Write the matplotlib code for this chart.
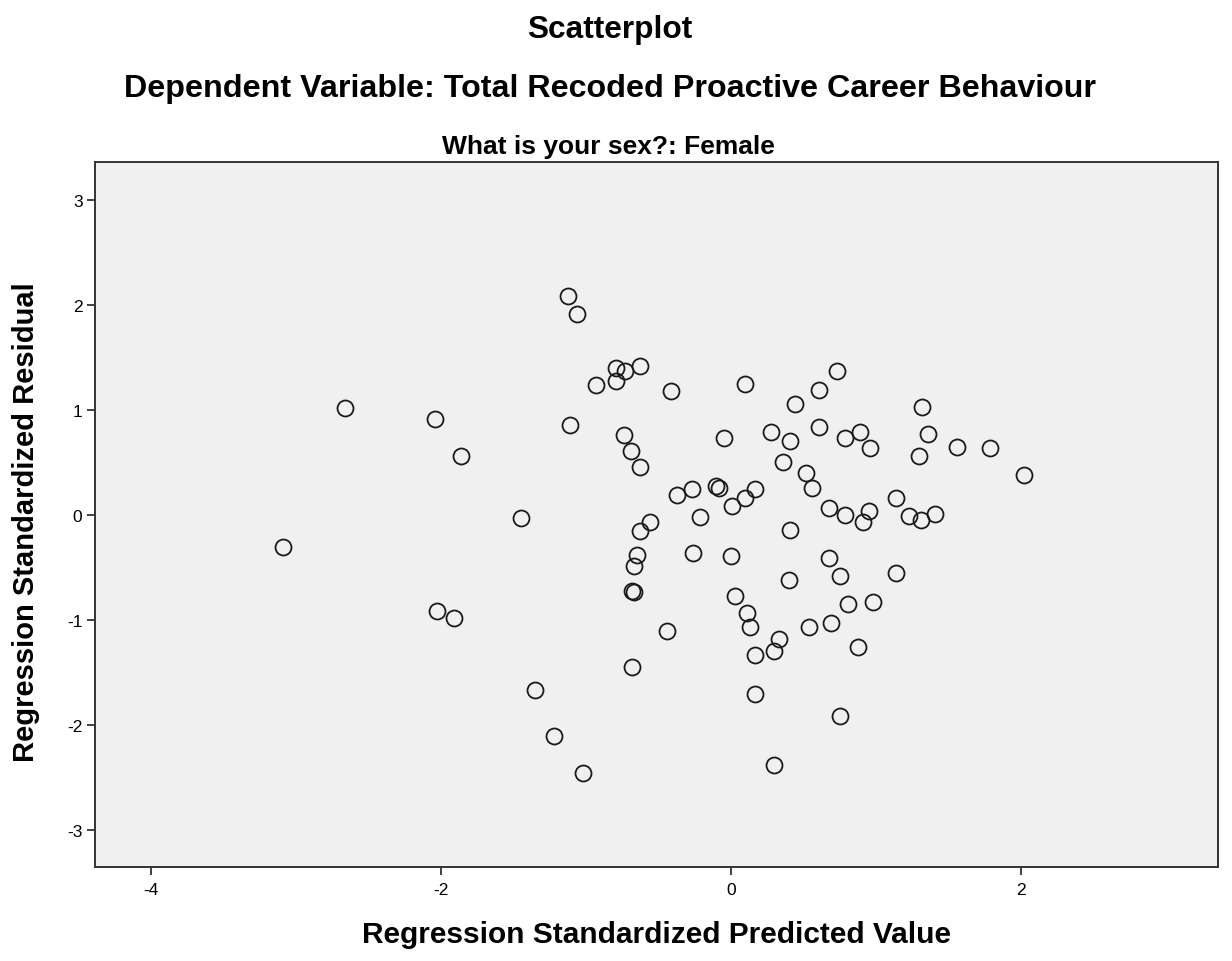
import matplotlib
matplotlib.use('Agg')
import matplotlib.pyplot as plt

# Regression standardized predicted value (x) and residual (y)
pred = [-3.09, -2.66, -2.04, -1.86, -2.03, -1.91, -1.45, -1.35, -1.22, -1.02,
        -1.12, -1.06, -1.11, -0.93, -0.79, -0.73, -0.79, -0.63, -0.74, -0.69,
        -0.63, -0.41, 0.10, 0.73, 0.61, 0.44, 0.28, 0.41, 0.61, 0.79,
        0.89, 0.96, 1.32, 1.36, 1.30, 1.56, 1.79, 2.02, -0.05, 0.36,
        0.52, 0.56, 1.14, 0.79, 0.95, 0.91, 1.23, 1.31, 1.41, 0.68,
        1.14, -0.37, -0.27, -0.10, -0.08, 0.01, 0.10, 0.17, -0.56, -0.63,
        -0.21, 0.41, -0.65, -0.67, -0.26, 0.00, 0.68, 0.75, 0.40, -0.68,
        -0.67, 0.03, 0.11, 0.13, 0.81, 0.98, 0.54, 0.69, 0.33, 0.30,
        0.17, 0.88, -0.44, -0.68, 0.17, 0.75, 0.30]
resid = [-0.30, 1.02, 0.91, 0.56, -0.91, -0.98, -0.03, -1.67, -2.10, -2.46,
         2.08, 1.91, 0.86, 1.24, 1.40, 1.37, 1.28, 1.42, 0.76, 0.61,
         0.46, 1.18, 1.25, 1.37, 1.19, 1.06, 0.79, 0.70, 0.84, 0.73,
         0.79, 0.64, 1.03, 0.77, 0.56, 0.65, 0.64, 0.38, 0.73, 0.50,
         0.40, 0.26, 0.16, 0.00, 0.04, -0.07, -0.01, -0.05, 0.01, 0.07,
         -0.55, 0.19, 0.25, 0.28, 0.26, 0.09, 0.16, 0.25, -0.07, -0.15,
         -0.02, -0.14, -0.38, -0.49, -0.36, -0.39, -0.41, -0.58, -0.62, -0.72,
         -0.73, -0.77, -0.93, -1.07, -0.85, -0.83, -1.07, -1.03, -1.18, -1.29,
         -1.33, -1.26, -1.10, -1.45, -1.70, -1.91, -2.38]

x_ticks = [-4, -2, 0, 2]
y_ticks = [-3, -2, -1, 0, 1, 2, 3]

plt.rcParams['font.family'] = ['Liberation Sans', 'DejaVu Sans']
plt.rcParams['axes.unicode_minus'] = False

fig = plt.figure(figsize=(12.32, 9.62), dpi=100)
ax = fig.add_axes([0.0771, 0.0977, 0.9115, 0.7329])
ax.set_facecolor('#f0f0f0')

ax.plot(pred, resid, linestyle='none', marker='o', markersize=11.5,
        markerfacecolor='none', markeredgecolor='#1a1a1a', markeredgewidth=1.3)

ax.set_xlim(-4.386, 3.36)
ax.set_ylim(-3.35, 3.36)
ax.set_xticks(x_ticks)
ax.set_yticks(y_ticks)
ax.tick_params(direction='out', length=6, width=1.3, labelsize=12.5, color='#333333')
ax.tick_params(axis='x', pad=5)
ax.tick_params(axis='y', pad=3)
for s in ax.spines.values():
    s.set_linewidth(1.4)
    s.set_color('#333333')

ax.set_xlabel('Regression Standardized Predicted Value', fontsize=21.5,
              fontweight='bold', labelpad=16)
ax.set_ylabel('Regression Standardized Residual', fontsize=21,
              fontweight='bold', labelpad=12)
ax.yaxis.set_label_coords(-0.049, 0.49)

# titles are centred on the page, not on the plot area
fig.text(0.494, 0.847, 'What is your sex?: Female', ha='center', va='center',
         fontsize=19, fontweight='bold')
fig.text(0.495, 0.969, 'Scatterplot', ha='center', va='center',
         fontsize=22.8, fontweight='bold')
fig.text(0.495, 0.908, 'Dependent Variable: Total Recoded Proactive Career Behaviour',
         ha='center', va='center', fontsize=23.2, fontweight='bold')

plt.savefig('out.png', dpi=100)
plt.close()
